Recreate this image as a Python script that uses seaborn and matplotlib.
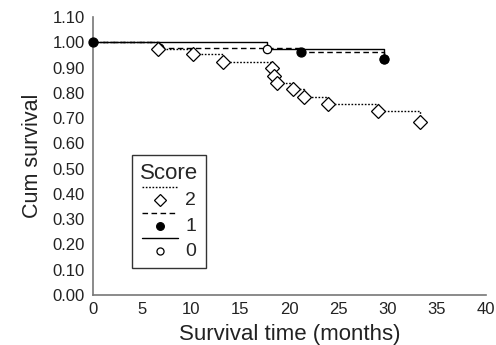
import matplotlib
matplotlib.use("Agg")
import matplotlib.pyplot as plt
from matplotlib.lines import Line2D
from matplotlib.legend_handler import HandlerBase
import seaborn as sns
import pandas as pd

# ---- data ----
score_labels = ["2", "1", "0"]
time_2 = [0, 6.6, 10.2, 13.2, 18.2, 18.4, 18.7, 20.4, 21.5, 23.9, 29.0, 33.3]
surv_2 = [1.0, 0.974, 0.952, 0.923, 0.900, 0.867, 0.840, 0.815, 0.785, 0.757, 0.728, 0.685]
time_1 = [0, 6.7, 21.2, 29.6]
surv_1 = [1.0, 0.979, 0.963, 0.935]
time_0 = [0, 17.7, 29.6]
surv_0 = [1.0, 0.972, 0.933]
x_ticks = [0, 5, 10, 15, 20, 25, 30, 35, 40]
y_ticks = [0.0, 0.1, 0.2, 0.3, 0.4, 0.5, 0.6, 0.7, 0.8, 0.9, 1.0, 1.1]

sns.set_theme(style="white")
plt.rcParams["font.family"] = ["Liberation Sans", "DejaVu Sans"]

fig = plt.figure(figsize=(4.96, 3.45), dpi=100)
ax = fig.add_axes([93/496, 1 - 295/345, 393/496, 278/345])

styles = {
    "2": dict(t=time_2, s=surv_2, ls=(0, (1.2, 1.2)), marker="D", mfc="white", ms=7, mstart=1),
    "1": dict(t=time_1, s=surv_1, ls=(0, (4, 2.5)), marker="o", mfc="black", ms=6.5, mstart=0),
    "0": dict(t=time_0, s=surv_0, ls="-", marker="o", mfc="white", ms=6, mstart=1),
}

for lab in ["0", "1", "2"]:
    st = styles[lab]
    df = pd.DataFrame({"time": st["t"], "surv": st["s"]})
    sns.lineplot(data=df, x="time", y="surv", ax=ax, estimator=None, sort=False,
                 drawstyle="steps-post", color="black", lw=1.0, linestyle=st["ls"])
    dm = df.iloc[st["mstart"]:]
    ax.plot(dm["time"], dm["surv"], linestyle="none", marker=st["marker"],
            markerfacecolor=st["mfc"], markeredgecolor="black", markersize=st["ms"],
            markeredgewidth=0.9, clip_on=False, zorder=5)

ax.set_xlim(0, 40)
ax.set_ylim(0, 1.10)
ax.set_xticks(x_ticks)
ax.set_yticks(y_ticks)
ax.set_yticklabels([f"{v:.2f}" for v in y_ticks])
ax.set_xlabel("Survival time (months)", fontsize=16, color="#222222", labelpad=5)
ax.set_ylabel("Cum survival", fontsize=15.5, color="#222222", labelpad=7)
ax.tick_params(axis="both", direction="in", length=10, width=1, color="#444444",
               labelsize=12, labelcolor="#222222")
ax.tick_params(axis="x", pad=5)
ax.tick_params(axis="y", pad=6)
for side in ["top", "right"]:
    ax.spines[side].set_visible(False)
for side in ["left", "bottom"]:
    ax.spines[side].set_color("#777777")
    ax.spines[side].set_linewidth(1.2)


class Entry:
    def __init__(self, ls, marker, mfc, ms):
        self.ls, self.marker, self.mfc, self.ms = ls, marker, mfc, ms


class StackedHandler(HandlerBase):
    def create_artists(self, legend, h, xdescent, ydescent, width, height, fontsize, trans):
        x0, x1 = -xdescent, -xdescent + width
        yl = -ydescent + height * 1.3
        ym = -ydescent + height * 0.35
        line = Line2D([x0, x1], [yl, yl], color="black", lw=1.0, linestyle=h.ls, transform=trans)
        mk = Line2D([(x0 + x1) / 2], [ym], linestyle="none", marker=h.marker,
                    markerfacecolor=h.mfc, markeredgecolor="black",
                    markersize=h.ms * 0.85, markeredgewidth=0.9, transform=trans)
        return [line, mk]


handles = [Entry(styles[l]["ls"], styles[l]["marker"], styles[l]["mfc"], styles[l]["ms"]) for l in score_labels]
leg = ax.legend(handles, score_labels, handler_map={Entry: StackedHandler()},
                title="Score", loc="upper left", bbox_to_anchor=((132 - 93) / 393, (295 - 155) / 278),
                borderaxespad=0, fontsize=14, title_fontsize=16, frameon=True, fancybox=False,
                handlelength=1.85, handleheight=0.7, labelspacing=0.4, handletextpad=0.4,
                borderpad=0.4)
leg.get_frame().set_edgecolor("black")
leg.get_frame().set_linewidth(1.0)

fig.savefig("out.png", dpi=100)
